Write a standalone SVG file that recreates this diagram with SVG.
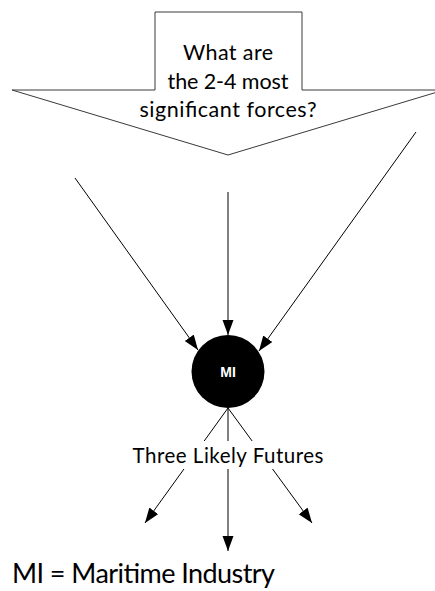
<svg xmlns="http://www.w3.org/2000/svg" width="435" height="591" viewBox="0 0 435 591">
<style>
.t{font-family:Lato,"Liberation Sans",Arial,sans-serif;fill:#000;text-anchor:middle}
.c{stroke:#000;stroke-width:1;fill:none}
</style>
<defs>
<marker id="ah" markerUnits="userSpaceOnUse" markerWidth="16" markerHeight="12" refX="15" refY="5.5" orient="auto">
<path d="M0,0 L15,5.5 L0,11 Z" fill="#000"/>
</marker>
</defs>
<rect width="435" height="591" fill="#fff"/>
<g id="question">
<polygon points="155,12 302,12 302,90 444,90 228,155 12,90 155,90" fill="#fff" stroke="#3a3a3a" stroke-width="1"/>
<text class="t" x="228" y="60" font-size="21.5" textLength="90">What are</text>
<text class="t" x="228" y="88.5" font-size="21.5" textLength="121">the 2-4 most</text>
<text class="t" x="228" y="117" font-size="21.5" textLength="177">significant forces?</text>
</g>
<g id="connectors">
<line class="c" x1="75" y1="178" x2="198" y2="350" marker-end="url(#ah)"/>
<line class="c" x1="228" y1="192" x2="228" y2="335" marker-end="url(#ah)"/>
<line class="c" x1="416" y1="132" x2="259" y2="351" marker-end="url(#ah)"/>
<line class="c" x1="228" y1="408" x2="145" y2="523" marker-end="url(#ah)"/>
<line class="c" x1="228" y1="408" x2="228" y2="551" marker-end="url(#ah)"/>
<line class="c" x1="228" y1="408" x2="312" y2="523" marker-end="url(#ah)"/>
</g>
<g id="futures-label">
<rect x="128" y="441" width="200" height="28" fill="#fff"/>
<text class="t" x="228" y="463" font-size="20.5" textLength="191">Three Likely Futures</text>
</g>
<g id="mi">
<circle cx="228" cy="371.5" r="36.5" fill="#000"/>
<text x="228" y="377" font-family="'Liberation Sans',Arial,sans-serif" font-weight="bold" font-size="14" fill="#fff" text-anchor="middle">MI</text>
</g>
<g id="legend">
<text x="12" y="583" font-family="Lato,'Liberation Sans',Arial,sans-serif" font-size="27" textLength="263" fill="#000">MI = Maritime Industry</text>
</g>
</svg>
